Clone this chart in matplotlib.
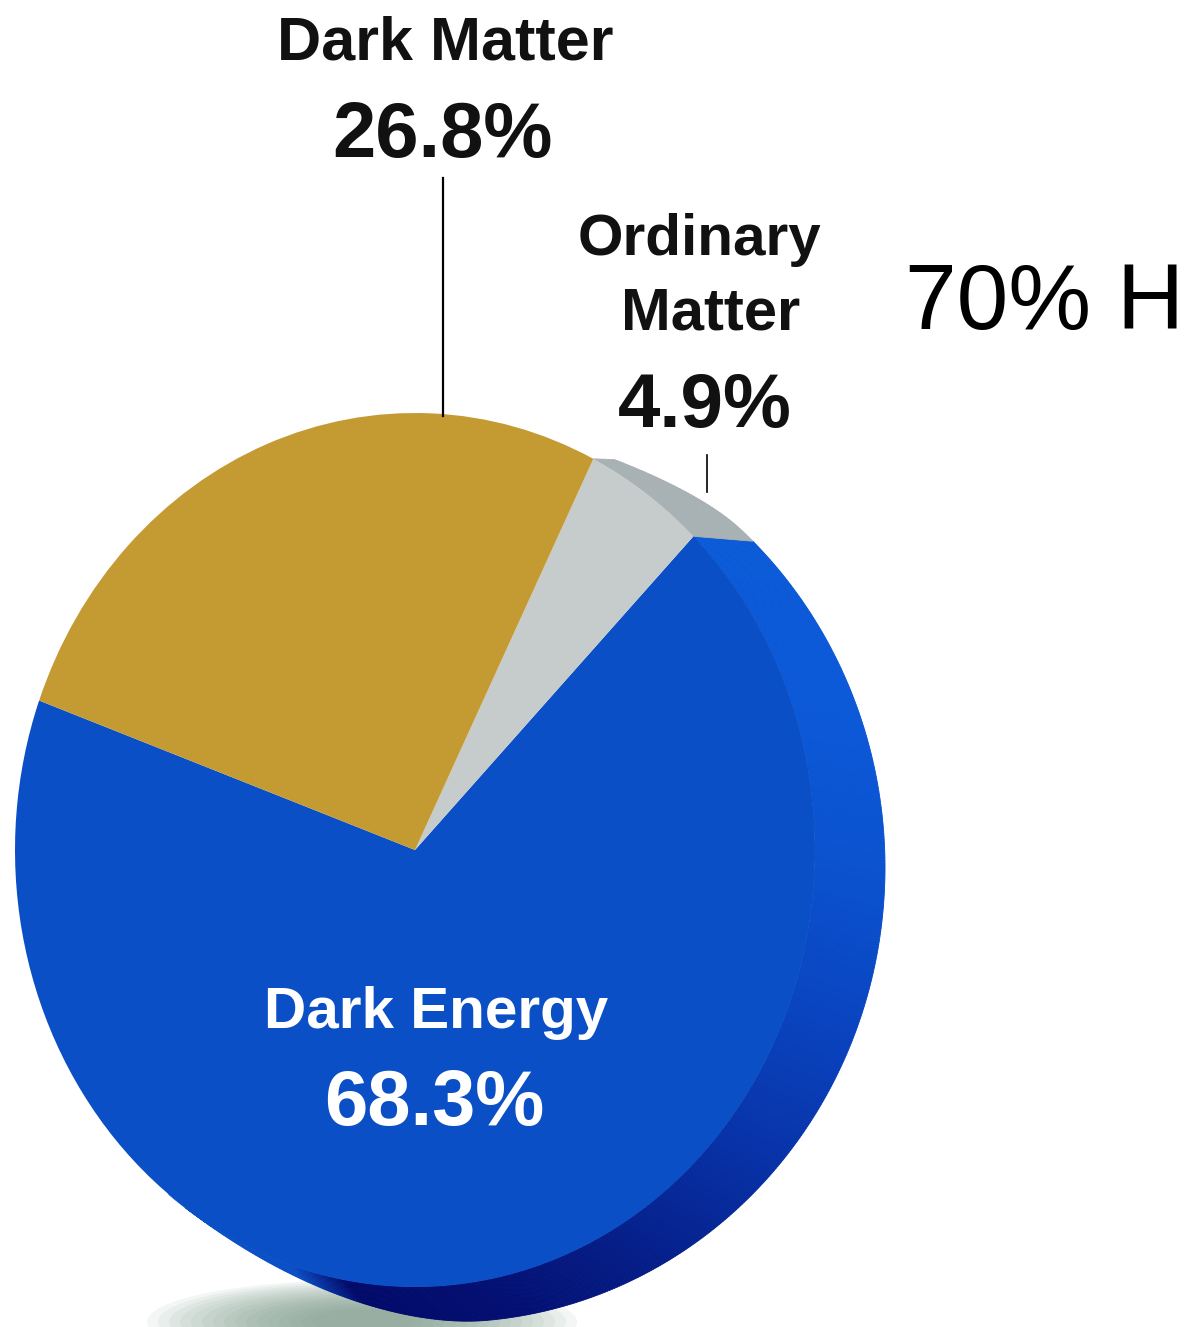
import numpy as np
import matplotlib.pyplot as plt
from matplotlib.patches import Polygon, Ellipse
from matplotlib.colors import to_rgb

# Composition of the universe
labels = ['Dark Energy', 'Ordinary Matter', 'Dark Matter']
shares = [68.3, 4.9, 26.8]
face_colors = ['#0b4fc6', '#c6cccc', '#c49a33']
side_colors = ['#0b4fc6', '#a8b1b3', None]   # dark matter side is hidden
side_note = '70% H'

W, H = 1191, 1327
CX, CY = 415, 850          # pie centre in pixels
RX, RY = 400, 437          # top face radii
OCX, OCY = 450, 867.5      # rim of the bottom face (perspective)
ORX, ORY = 435, 454.5


def px(x, y):
    # pixel position -> axes data units (1 unit = one face radius)
    return (x - CX) / RX, (CY - y) / RY


def smooth(t):
    t = np.clip(t, 0, 1)
    return t * t * (3 - 2 * t)


fig = plt.figure(figsize=(W / 100, H / 100), dpi=100)
ax = fig.add_axes([0, 0, 1, 1])
x0, y0 = px(0, H)
x1, y1 = px(W, 0)

# soft shadow under the disc
sx, sy = px(362, 1322)
for k in range(16):
    e = Ellipse((sx, sy), (430 - k * 22) / RX, (84 - k * 4) / RY,
                color='#7f9a8c', alpha=0.085, lw=0, zorder=0.2)
    ax.add_patch(e)

wedges, _ = ax.pie(shares, colors=face_colors, startangle=160,
                   counterclock=True, radius=1,
                   wedgeprops=dict(linewidth=0))
ax.set_aspect('auto')
ax.set_xlim(x0, x1)
ax.set_ylim(y0, y1)
ax.axis('off')

# side of the disc, shaded by direction
blue_ang = [-180, -108, -100, -80, -60, -40, -20, 0, 20, 45, 180]
blue_col = ['#0b4fc6', '#0b4fc6', '#020a6a', '#030f72', '#051f8a', '#0732a8',
            '#0944c0', '#0a52d0', '#0b58d8', '#0b5ad8', '#0b5ad8']
blue_rgb = np.array([to_rgb(c) for c in blue_col])


def rim(a):
    # face rim point and the matching point on the far rim
    fx, fy = CX + RX * np.cos(a), CY - RY * np.sin(a)
    bx, by = OCX + ORX * np.cos(a), OCY - ORY * np.sin(a)
    d = ((np.rad2deg(a) + 180) % 360) - 180
    w = smooth((d + 125) / 40) * smooth((76 - d) / 28)
    return px(fx, fy), px(fx + w * (bx - fx), fy + w * (by - fy))


for i, w in enumerate(wedges):
    if side_colors[i] is None:
        continue
    t1, t2 = w.theta1, w.theta2
    angs = np.linspace(t1, t2, int(abs(t2 - t1) * 3) + 2)
    for a, b in zip(angs[:-1], angs[1:]):
        md = ((a + b) / 2 + 180) % 360 - 180
        if not -128 < md < 78:
            continue
        if i == 0:
            c = [np.interp(md, blue_ang, blue_rgb[:, j]) for j in range(3)]
        else:
            c = side_colors[i]
        (fa, ba), (fb, bb) = rim(np.deg2rad(a)), rim(np.deg2rad(b))
        ax.add_patch(Polygon([fa, fb, bb, ba], closed=True, facecolor=c,
                             edgecolor=c, lw=0.6, zorder=0.5))
for w in wedges:
    w.set_zorder(2)

lab = dict(family=['Liberation Sans', 'DejaVu Sans'], fontweight='bold',
           ha='center', va='baseline', zorder=4)

# leader lines
ax.plot(*zip(px(443, 178), px(443, 416)), color='black', lw=1.6, zorder=3)
ax.plot(*zip(px(707, 455), px(707, 492)), color='black', lw=1.2, zorder=3)

ax.text(*px(445, 60), 'Dark Matter', fontsize=44, color='#111111', **lab)
ax.text(*px(442, 157), '26.8%', fontsize=56, color='#111111', **lab)

ax.text(*px(700, 255), 'Ordinary', fontsize=42, color='#111111', **lab)
ax.text(*px(711, 330), 'Matter', fontsize=43, color='#111111', **lab)
ax.text(*px(705, 427), '4.9%', fontsize=55, color='#111111', **lab)

ax.text(*px(436, 1028), 'Dark Energy', fontsize=42, color='white', **lab)
ax.text(*px(434, 1125), '68.3%', fontsize=56, color='white', **lab)

ax.text(*px(905, 329), side_note, fontsize=67, family='Liberation Sans',
        ha='left', va='baseline', color='black')

fig.savefig('out.png', dpi=100)
